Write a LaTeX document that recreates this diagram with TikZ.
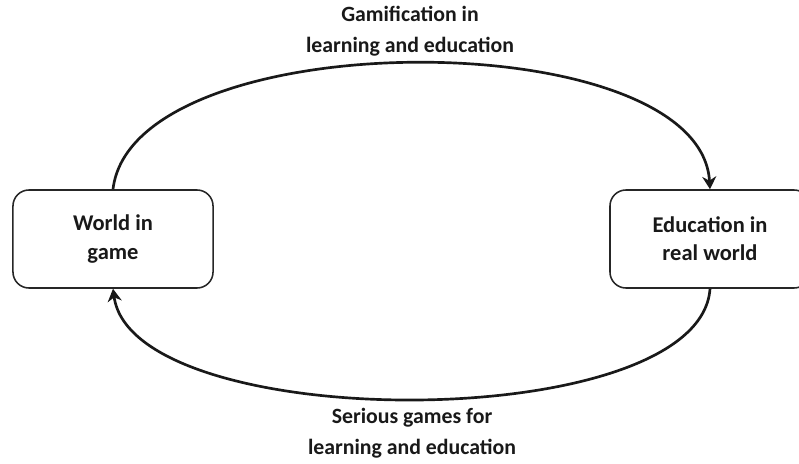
\documentclass[tikz,border=0pt]{standalone}
\usepackage{fontspec}
\setmainfont{Carlito}
\usetikzlibrary{arrows.meta}

\tikzset{
  place/.style={draw=black!85,line width=1.1pt,rounded corners=0.4cm,
    minimum width=5cm,minimum height=2.45cm,align=center,text=black!90,
    font=\fontsize{16}{20}\selectfont\bfseries},
  flow/.style={black!90,line width=1.9pt,-{Stealth[length=9pt,width=10pt]}},
  caption/.style={align=center,text=black!90,
    font=\fontsize{15.5}{22}\selectfont\bfseries}
}

\begin{document}
\begin{tikzpicture}[x=0.025cm,y=-0.025cm]
\useasboundingbox (0,0) rectangle (799,464);
\node[place] (world) at (113,239) {World in\\game};
\node[place] (edu) at (710,239) {Education in\\real world};
\node[caption] (gamif) at (410,31) {Gamification in\\learning and education};
\node[caption] (serious) at (412,433) {Serious games for\\learning and education};
% arcs between the two worlds
\draw[flow] (world.north) .. controls +(20,-168) and +(-10,-168) .. (edu.north);
\draw[flow] (edu.south) .. controls +(-10,147) and +(20,147) .. (world.south);
\end{tikzpicture}
\end{document}
